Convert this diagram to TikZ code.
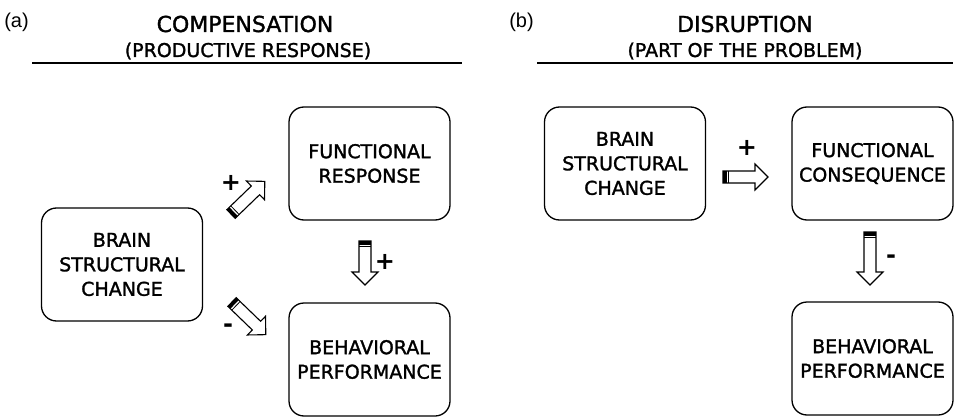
\documentclass[tikz,border=0pt]{standalone}
\usepackage{fontspec}
\setmainfont{DejaVu Sans}[FakeBold=1.5]
\newfontfamily\labfont{Liberation Sans}
\newfontfamily\sgnfont{DejaVu Sans Bold}
\begin{document}
\begin{tikzpicture}[x=1pt,y=1pt,
  box/.style={draw, line width=1.3pt, rounded corners=15pt, minimum width=161pt, minimum height=113pt, align=center, inner sep=0pt,
    font=\fontsize{19}{24.5}\selectfont},
  ttl/.style={anchor=base, font=\fontsize{22}{22}\selectfont},
  sub/.style={anchor=base, font=\fontsize{19}{19}\selectfont},
  lab/.style={font=\labfont\fontsize{20}{20}\selectfont},
  sgn/.style={font=\sgnfont\fontsize{24}{24}\selectfont, inner sep=0pt},
  rule/.style={line width=1.4pt},
  pics/barrow/.style={code={
    \draw[line width=1.1pt, fill=white, line join=miter] (0,-6) -- (#1-13,-6) -- (#1-13,-13) -- (#1,0) -- (#1-13,13) -- (#1-13,6) -- (0,6) -- cycle;
    \fill (0,-6) rectangle (3.5,6);
    \draw[line width=0.8pt] (5.5,-6) -- (5.5,6);
  }}
]
\useasboundingbox (0,0) rectangle (958,-417);

% panel (a)
\node[lab] (la) at (16.5,-22) {(a)};
\node[ttl] (ta) at (245,-32) {COMPENSATION};
\node[sub] (sa) at (248,-57) {(PRODUCTIVE RESPONSE)};
\coordinate (ra1) at (32,-63);
\coordinate (ra2) at (462,-63);
\draw[rule] (ra1) -- (ra2);

\node[box] (a1) at (122,-264.5) {BRAIN\\STRUCTURAL\\CHANGE};
\node[box] (a2) at (369.5,-163.5) {FUNCTIONAL\\RESPONSE};
\node[box] (a3) at (369.5,-359.5) {BEHAVIORAL\\PERFORMANCE};

\pic[rotate=44] at (231,-214) {barrow=47};
\pic[rotate=-44] at (232,-302) {barrow=47};
\pic[rotate=-90] at (365,-241) {barrow=44};

\node[sgn] (pa1) at (231,-183) {+};
\node[sgn] (ma1) at (228,-328) {-};
\node[sgn] (pa2) at (385,-262) {+};

% panel (b)
\node[lab] (lb) at (521.5,-22) {(b)};
\node[ttl] (tb) at (745,-32) {DISRUPTION};
\node[sub] (sb) at (745,-57) {(PART OF THE PROBLEM)};
\coordinate (rb1) at (537,-63);
\coordinate (rb2) at (953,-63);
\draw[rule] (rb1) -- (rb2);

\node[box] (b1) at (625,-163.5) {BRAIN\\STRUCTURAL\\CHANGE};
\node[box] (b2) at (872.5,-163.5) {FUNCTIONAL\\CONSEQUENCE};
\node[box] (b3) at (872.5,-358.5) {BEHAVIORAL\\PERFORMANCE};

\pic at (723,-177) {barrow=45};
\pic[rotate=-90] at (870,-232) {barrow=53};

\node[sgn] (pb1) at (747,-148) {+};
\node[sgn] (mb1) at (891,-259) {-};
\end{tikzpicture}
\end{document}
